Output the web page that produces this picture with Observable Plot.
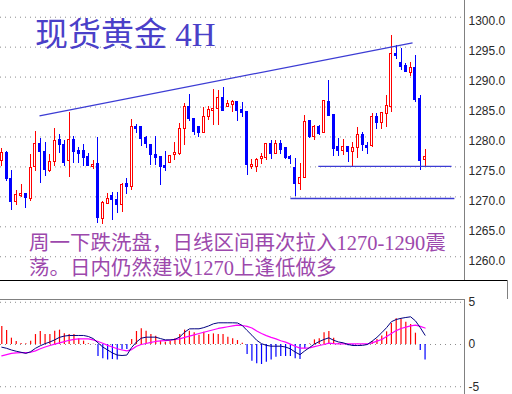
<!DOCTYPE html>
<html><head><meta charset="utf-8">
<script src="https://cdn.jsdelivr.net/npm/d3@7"></script>
<script src="https://cdn.jsdelivr.net/npm/@observablehq/plot@0.6"></script>
<style>
html,body{margin:0;padding:0;background:#fff;}
#wrap{position:relative;width:512px;height:394px;overflow:hidden;background:#fff;}
#main{position:absolute;left:0;top:0;}
#macd{position:absolute;left:0;top:281px;}
.sep{position:absolute;background:#000;}
.title{position:absolute;left:35px;top:19px;font-size:33px;line-height:33px;font-family:"Liberation Serif","Noto Sans CJK SC",serif;color:#4a40c8;white-space:nowrap;}
.note{position:absolute;left:29px;top:231px;font-size:20.5px;line-height:25px;font-family:"Liberation Serif","Noto Sans CJK SC",serif;color:#9c48ac;white-space:nowrap;}
</style>
</head><body>
<div id="wrap">
  <div id="main"></div>
  <div class="sep" style="left:0;top:280px;width:508px;height:1px;"></div>
  <div class="sep" style="left:507px;top:280px;width:1px;height:19px;background:#808080;"></div>
  <div id="macd"></div>
  <div class="title" id="title"></div>
  <div class="note" id="note"></div>
</div>
<script>
// ---- data ----
const titleText = "现货黄金 4H";
const noteLines = ["周一下跌洗盘，日线区间再次拉入1270-1290震", "荡。日内仍然建议1270上逢低做多"];

const open  = [1276.0,1277.2,1272.9,1269.2,1270.2,1270.4,1269.8,1275.1,1278.8,1277.4,1274.4,1275.9,1279.4,1278.6,1276.0,1279.4,1277.6,1277.5,1276.6,1275.1,
               1275.4,1266.4,1268.9,1270.0,1269.4,1268.8,1272.0,1271.8,1281.6,1281.5,1279.8,1278.6,1276.9,1276.5,1275.1,1275.8,1277.1,1277.3,1281.4,1284.9,
               1283.0,1281.5,1280.7,1283.5,1284.4,1284.7,1286.4,1285.1,1285.4,1285.7,1284.5,1284.1,1275.1,1275.1,1276.4,1276.6,1278.7,1277.2,1278.7,1278.0,
               1276.6,1274.7,1272.2,1273.2,1282.6,1280.0,1281.5,1280.8,1285.7,1283.6,1278.2,1277.7,1278.2,1277.5,1278.2,1280.2,1278.4,1278.5,1283.2,1282.5,
               1284.0,1285.1,1293.8,1292.3,1291.7,1290.8,1291.5,1286.3,1276.2];
const high  = [1278.0,1277.5,1274.4,1271.1,1272.0,1270.5,1277.0,1280.9,1279.7,1279.1,1277.0,1281.4,1280.4,1279.4,1284.1,1280.0,1278.2,1278.8,1277.3,1276.0,
               1279.9,1269.3,1270.5,1270.8,1270.8,1272.2,1273.1,1282.9,1282.0,1281.6,1280.1,1278.6,1280.1,1276.5,1277.5,1276.9,1279.1,1282.2,1285.6,1287.1,
               1283.1,1281.6,1284.9,1285.1,1288.0,1287.8,1288.3,1286.1,1286.1,1285.7,1285.7,1284.1,1276.2,1276.4,1277.2,1278.7,1279.4,1279.4,1279.4,1278.2,
               1276.9,1276.4,1275.5,1283.6,1282.7,1281.9,1281.9,1286.1,1289.4,1283.6,1279.7,1279.6,1278.4,1279.0,1281.5,1280.8,1279.0,1283.9,1283.9,1284.1,
               1287.0,1296.9,1295.3,1294.7,1292.3,1292.4,1293.6,1286.9,1277.9];
const low   = [1275.0,1272.6,1267.7,1268.5,1269.9,1268.0,1269.3,1274.3,1272.3,1273.4,1274.1,1275.1,1277.3,1275.1,1273.3,1275.5,1275.5,1275.1,1275.1,1274.6,
               1265.6,1265.4,1268.9,1266.1,1267.3,1267.4,1270.4,1271.1,1280.5,1278.4,1278.1,1275.2,1275.2,1271.9,1274.2,1275.8,1276.0,1276.9,1278.6,1282.6,
               1280.3,1279.9,1280.6,1282.8,1281.9,1281.9,1284.4,1285.0,1284.1,1282.6,1283.3,1273.5,1274.6,1274.1,1275.4,1276.0,1276.2,1277.2,1277.1,1276.2,
               1275.4,1270.0,1271.0,1273.1,1279.7,1279.4,1280.2,1280.5,1283.6,1276.7,1276.7,1276.9,1275.8,1275.1,1276.4,1277.6,1277.1,1278.2,1281.3,1281.2,
               1281.5,1284.1,1292.9,1291.1,1290.7,1290.1,1285.8,1274.4,1274.9];
const close = [1277.2,1273.0,1269.2,1270.2,1270.4,1269.9,1274.7,1278.7,1277.5,1274.5,1275.7,1279.3,1278.8,1275.8,1279.4,1277.6,1277.3,1276.5,1275.2,1275.3,
               1266.6,1268.9,1269.6,1269.5,1268.7,1271.9,1271.8,1281.5,1281.4,1279.8,1278.9,1277.1,1276.5,1275.0,1274.9,1276.8,1277.3,1281.2,1284.9,1283.1,
               1280.9,1280.8,1283.3,1284.4,1284.6,1286.4,1284.4,1285.4,1285.8,1284.5,1284.1,1275.4,1275.3,1276.1,1276.6,1278.7,1277.2,1278.7,1277.9,1276.6,
               1276.4,1272.2,1273.0,1282.4,1280.1,1281.5,1280.6,1285.9,1283.6,1278.1,1277.7,1278.2,1277.6,1278.1,1280.2,1278.7,1278.2,1283.2,1282.5,1283.9,
               1285.1,1293.8,1293.6,1291.7,1291.0,1291.4,1286.3,1276.1,1276.6];

const hist = [2.13,1.66,0.75,0.36,0.12,0.08,0.40,1.18,1.54,1.18,1.18,1.58,1.70,1.26,1.18,1.18,0.67,0.40,0.08,0.04,
              -1.42,-1.70,-1.82,-1.78,-1.82,-0.65,-0.59,0.59,1.54,1.86,1.58,1.18,0.99,0.40,0.28,0.36,0.67,1.18,1.70,1.58,
              1.38,1.11,1.46,1.18,1.26,1.18,1.18,0.87,0.67,0.47,0.16,-1.18,-1.97,-2.29,-2.37,-2.09,-1.82,-1.50,-1.42,-1.42,
              -1.42,-1.70,-1.78,-0.51,0.05,0.55,0.67,1.38,1.54,0.75,0.10,0.05,-0.15,-0.20,0.03,0.03,-0.10,0.36,0.60,1.00,
              1.50,2.50,3.04,3.00,2.65,2.37,1.34,-0.71,-1.82];
const dif  = [-0.32,-0.45,-0.65,-0.80,-0.92,-1.05,-0.85,-0.45,-0.15,0.10,0.30,0.55,0.85,1.00,1.07,1.07,1.07,1.07,0.95,0.70,
              0.20,-0.30,-0.65,-1.00,-1.25,-1.30,-1.25,-0.35,0.30,0.75,0.87,0.87,0.87,0.70,0.55,0.55,0.60,0.90,1.45,1.85,
              1.86,1.86,2.00,2.20,2.45,2.57,2.57,2.57,2.57,2.55,2.25,1.66,1.10,0.50,0.10,-0.10,-0.20,-0.20,-0.20,-0.30,
              -0.51,-0.90,-1.20,-0.75,-0.35,0.05,0.35,0.60,0.79,0.50,0.30,0.20,0.00,-0.12,-0.12,-0.10,0.00,0.40,0.85,1.40,
              2.00,2.70,2.96,3.10,3.20,3.28,2.80,2.00,1.10];
const dea  = [-1.35,-1.20,-1.05,-1.00,-0.97,-0.95,-0.92,-0.75,-0.50,-0.30,-0.12,0.05,0.20,0.35,0.50,0.60,0.67,0.67,0.67,0.55,
              0.35,0.15,-0.10,-0.30,-0.50,-0.65,-0.75,-0.60,-0.20,0.00,0.12,0.25,0.36,0.42,0.47,0.52,0.60,0.67,0.85,1.00,
              1.15,1.30,1.45,1.60,1.75,1.90,2.00,2.10,2.20,2.30,2.25,2.15,1.95,1.60,1.30,1.05,0.85,0.67,0.45,0.28,
              0.05,-0.20,-0.43,-0.43,-0.40,-0.25,-0.12,0.00,0.16,0.10,0.08,0.08,0.08,0.08,0.08,0.08,0.08,0.20,0.40,0.60,
              0.95,1.30,1.65,1.90,2.05,2.21,2.29,2.15,1.95];

// trend / support lines (bar index, price)
const lineX1 = [7.84, 65.8, 60.0];
const lineY1 = [1283.54, 1275.1, 1269.73];
const lineX2 = [85.4, 93.5, 94.1];
const lineY2 = [1295.73, 1275.1, 1269.73];

const priceTicks = [1260,1265,1270,1275,1280,1285,1290,1295,1300];
const macdTicks = [-5,0,5];

// ---- build ----
const RED = "#ff0000", BLUE = "#0000ff", GRID = "#8c8c8c", AXIS = "#808080";
const bars = open.map((o,i) => ({i, o, h: high[i], l: low[i], c: close[i], up: close[i] >= o}));
const macdRows = hist.map((h,i) => ({i, h, dif: dif[i], dea: dea[i]}));
const lines = lineX1.map((x1,k) => ({x1, y1: lineY1[k], x2: lineX2[k], y2: lineY2[k]}));
const xDomain = [-0.27, 96.2];

const main = Plot.plot({
  width: 512, height: 280,
  marginLeft: 0, marginRight: 48, marginTop: 0, marginBottom: 0,
  style: {background: "transparent", overflow: "visible"},
  x: {type: "linear", domain: xDomain, range: [0, 464], axis: null},
  y: {domain: [1256.2, 1302.79], range: [279, 0], axis: null},
  color: {type: "identity"},
  marks: [
    Plot.gridY(priceTicks, {stroke: GRID, strokeOpacity: 1, strokeDasharray: "1,4"}),
    Plot.axisY(priceTicks, {anchor: "right", tickSize: 0, tickPadding: 4, dy: 4,
      tickFormat: d3.format(".1f"), fontSize: 12, fontFamily: "Liberation Sans, Arial, sans-serif", fill: "#2a2a2a"}),
    Plot.ruleX([xDomain[1]], {stroke: AXIS, shapeRendering: "crispEdges"}),
    Plot.ruleX(bars, {x: "i", y1: "l", y2: "h", stroke: d => d.up ? RED : BLUE, shapeRendering: "crispEdges"}),
    Plot.rect(bars, {x1: d => d.i - 0.21, x2: d => d.i + 0.21,
      y1: d => Math.min(d.o, d.c), y2: d => Math.max(d.o, d.c), insetTop: -0.5, insetBottom: -0.5,
      fill: d => d.up ? "#ffffff" : BLUE, stroke: d => d.up ? RED : BLUE, shapeRendering: "crispEdges"}),
    Plot.link(lines, {x1: "x1", y1: "y1", x2: "x2", y2: "y2", stroke: "#3c3cd4", strokeWidth: 1.3})
  ]
});
document.getElementById("main").appendChild(main);

const macd = Plot.plot({
  width: 512, height: 113,
  marginLeft: 0, marginRight: 48, marginTop: 18, marginBottom: 0,
  style: {background: "transparent", overflow: "visible"},
  x: {type: "linear", domain: xDomain, range: [0, 464], axis: null},
  y: {domain: [-5.92, 5.33], range: [113, 18], axis: null},
  color: {type: "identity"},
  marks: [
    Plot.gridY(macdTicks, {stroke: GRID, strokeOpacity: 1, strokeDasharray: "1,4"}),
    Plot.axisY(macdTicks, {anchor: "right", tickSize: 0, tickPadding: 4, dy: 0,
      tickFormat: d => String(d), fontSize: 12, fontFamily: "Liberation Sans, Arial, sans-serif", fill: "#2a2a2a"}),
    Plot.ruleY([5.33], {stroke: AXIS, shapeRendering: "crispEdges"}),
    Plot.ruleX([xDomain[1]], {stroke: AXIS, shapeRendering: "crispEdges"}),
    Plot.ruleX(macdRows, {x: "i", y1: 0, y2: "h", stroke: d => d.h >= 0 ? RED : BLUE, strokeWidth: 1.2}),
    Plot.line(macdRows, {x: "i", y: "dea", stroke: "#ff00ff", strokeWidth: 1.2}),
    Plot.line(macdRows, {x: "i", y: "dif", stroke: "#000080", strokeWidth: 1})
  ]
});
document.getElementById("macd").appendChild(macd);

document.getElementById("title").textContent = titleText;
const noteEl = document.getElementById("note");
noteLines.forEach(t => { const d = document.createElement("div"); d.textContent = t; noteEl.appendChild(d); });
</script>
</body></html>
